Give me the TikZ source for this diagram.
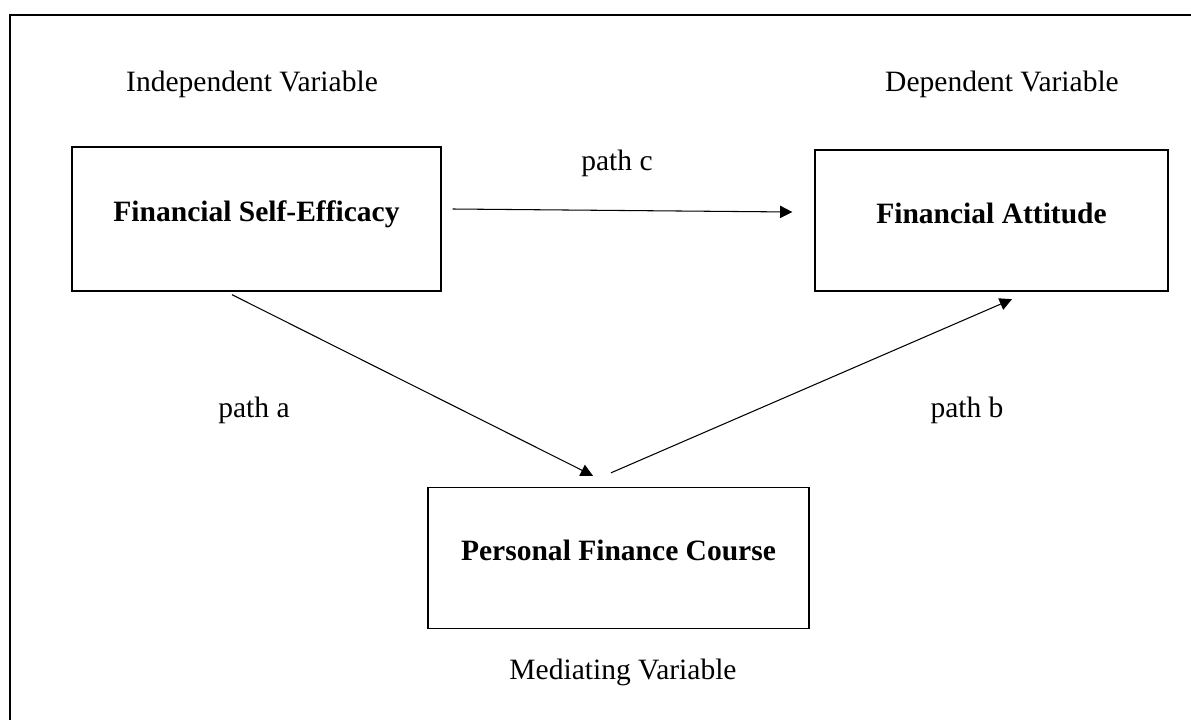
\documentclass[tikz,border=0pt]{standalone}
\usepackage{fontspec}
\setmainfont{Liberation Serif}
\usetikzlibrary{arrows.meta,positioning}

\tikzset{
	varbox/.style={draw,thick,minimum width=#1,minimum height=2.82cm,
		inner sep=0pt,text depth=0.3cm,font=\fontsize{16.8}{20}\selectfont\bfseries},
	lbl/.style={inner sep=0pt,font=\fontsize{16.8}{20}\selectfont},
	conn/.style={line width=0.6pt,-{Triangle[length=7pt,width=7pt]}}
}

\begin{document}
\begin{tikzpicture}[x=0.02cm,y=-0.02cm]
	\useasboundingbox (0,0) rectangle (1191,720);
	% frame, only top and left edge inside the picture
	\draw[line width=1.7pt] (10,720) -- (10,15) -- (1191,15);
	
	% boxes
	\node[varbox=7.38cm,minimum height=2.88cm] (fse) at (256.5,219) {Financial Self-Efficacy};
	\node[varbox=7.06cm] (fa) at (991.5,220.5) {Financial Attitude};
	\node[varbox=7.62cm] (pfc) at (618.5,558) {Personal Finance Course};
	
	% labels
	\node[lbl] (indep) at (252,84) {Independent Variable};
	\node[lbl] (dep) at (1002,84) {Dependent Variable};
	\node[lbl] (med) at (623,672) {Mediating Variable};
	\node[lbl] (pathc) at (617,163) {path c};
	\node[lbl] (patha) at (254,410) {path a};
	\node[lbl] (pathb) at (967,410) {path b};
	
	% paths
	\draw[conn] ([xshift=0.22cm,yshift=0.2cm]fse.east) -- ([xshift=-0.44cm,yshift=0.17cm]fa.west);
	\draw[conn] ([xshift=-0.49cm,yshift=-0.06cm]fse.south) -- ([xshift=-0.51cm,yshift=0.22cm]pfc.north);
	\draw[conn] ([xshift=-0.15cm,yshift=0.28cm]pfc.north) -- ([xshift=0.41cm,yshift=-0.15cm]fa.south);
\end{tikzpicture}
\end{document}
